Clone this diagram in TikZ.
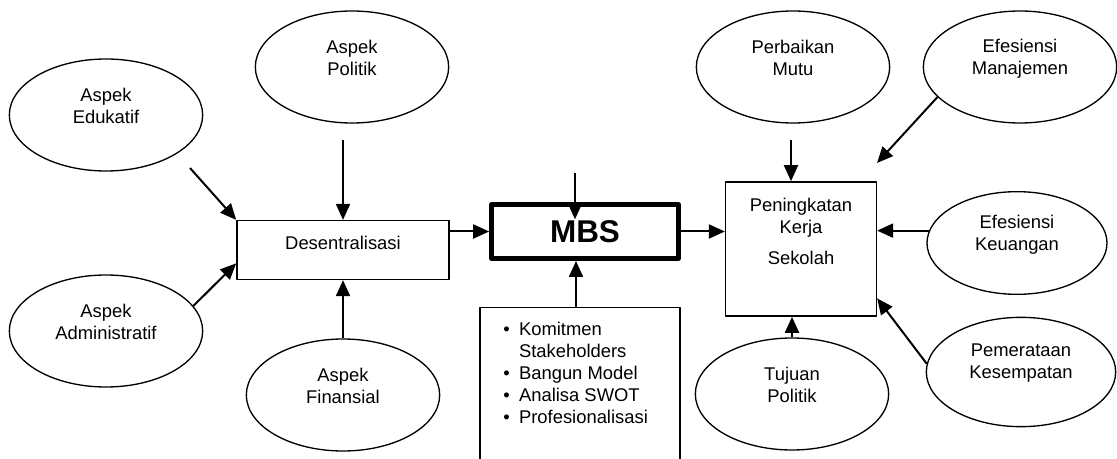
\documentclass[tikz,border=0pt]{standalone}
\usepackage{fontspec}
\setmainfont{Liberation Sans}
\usetikzlibrary{shapes.geometric,arrows.meta}
\begin{document}
\begin{tikzpicture}[x=0.75pt,y=-0.75pt,line join=round,font=\fontsize{13.8}{16.5}\selectfont,
	oval/.style={draw,ellipse,line width=1pt,inner sep=0pt,minimum width=145pt,minimum height=84pt},
	kotak/.style={draw,line width=1.2pt,inner sep=0pt},
	teks/.style={align=center,yshift=6.5pt},
	arr/.style={-{Triangle[length=12pt,width=10.5pt]},line width=1.5pt}]
			\useasboundingbox (0,0) rectangle (1117,459);
			\clip (0,0) rectangle (1117,459);
			% ben trai
			\node[oval,label={[teks]center:{Aspek\\Edukatif}}] (edu) at (106,115) {};
			\node[oval,label={[teks]center:{Aspek\\Politik}}] (pol) at (352,67) {};
			\node[oval,label={[teks]center:{Aspek\\Administratif}}] (adm) at (106,331) {};
			\node[oval,label={[teks]center:{Aspek\\Finansial}}] (fin) at (343,395) {};
			\node[kotak,minimum width=159pt,minimum height=44pt,label={[yshift=5pt]center:Desentralisasi}] (desen) at (343,250) {};
			% o giua
			\node[draw,line width=3.75pt,minimum width=140pt,minimum height=40.5pt,font=\fontsize{23.6}{28}\selectfont\bfseries] (mbs) at (585,231.5) {MBS};
			\node[kotak,minimum width=150pt,minimum height=130pt] (faktor) at (580,394) {};
			\node[anchor=base west,inner sep=0pt] (daftar) at (503,336) {\begin{tabular}[t]{@{}l@{\hspace{7pt}}l@{}}
					\textbullet & Komitmen\\
					& Stakeholders\\
					\textbullet & Bangun Model\\
					\textbullet & Analisa SWOT\\
					\textbullet & Profesionalisasi
				\end{tabular}};
			% ben phai
			\node[kotak,minimum width=113pt,minimum height=100.5pt,label={[align=center,yshift=13pt]center:{Peningkatan\\Kerja\\[7pt]Sekolah}}] (pening) at (801,249) {};
			\node[oval,label={[teks]center:{Perbaikan\\Mutu}}] (perb) at (793,67) {};
			\node[oval,label={[teks]center:{Efesiensi\\Manajemen}}] (man) at (1020,67) {};
			\node[oval,minimum width=135pt,minimum height=77pt,label={[teks]center:{Efesiensi\\Keuangan}}] (keu) at (1017,243) {};
			\node[oval,minimum width=142pt,minimum height=82pt,label={[teks]center:{Pemerataan\\Kesempatan}}] (pem) at (1021,372) {};
			\node[oval,label={[teks]center:{Tujuan\\Politik}}] (tuj) at (792,394) {};
			% dau mui ten tu do
			\coordinate (e1) at (190,168);
			\coordinate (e2) at (343,140);
			\coordinate (m1) at (575,173);
			\coordinate (m2) at (576,307);
			\coordinate (p1) at (791,140);
			\coordinate (p2) at (877,163);
			% mui ten
			\draw[arr] (e1) -- (desen.north west);
			\draw[arr] (e2) -- (desen.north);
			\draw[arr] (adm.16) -- ([yshift=-10pt]desen.west);
			\draw[arr] (fin.north) -- (desen.south);
			\draw[arr] (desen.east |- mbs.west) -- (mbs.west);
			\draw[arr] (m1) -- ([yshift=-13pt]m1 |- mbs.north);
			\draw[arr] (m2) -- (m2 |- mbs.south);
			\draw[arr] (mbs.east) -- (mbs.east -| pening.west);
			\draw[arr] (p1) -- (p1 |- pening.north);
			\draw[arr] (man.200) -- (p2);
			\draw[arr] (keu.172) -- (keu.172 -| pening.east);
			\draw[arr] (pem.175) -- ([yshift=-37pt]pening.east);
			\draw[arr] (tuj.north) -- (tuj.north |- pening.south);
		\end{tikzpicture}
\end{document}
